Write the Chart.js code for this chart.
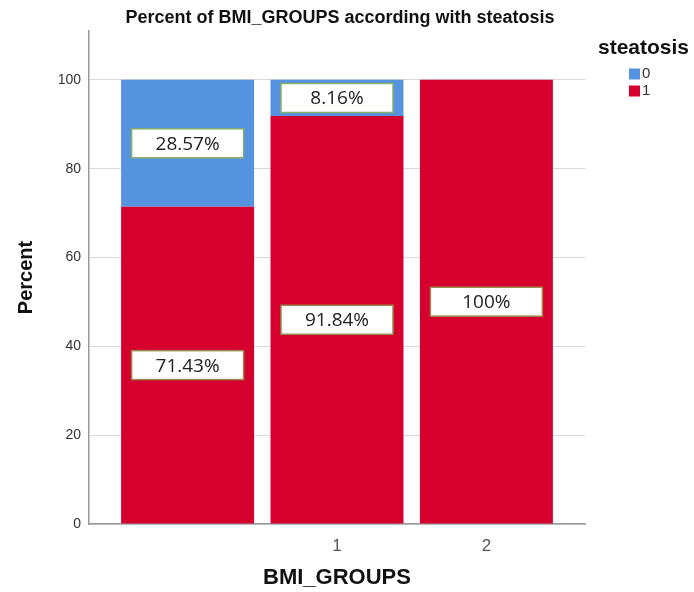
<!DOCTYPE html>
<html>
<head>
<meta charset="utf-8">
<script src="https://cdn.jsdelivr.net/npm/chart.js@4.4.0/dist/chart.umd.min.js"></script>
<style>
html, body { margin: 0; padding: 0; background: #fff; }
</style>
</head>
<body>
<canvas id="chartBmi" width="694" height="592"></canvas>
<script>
// BMI groups on the x axis (first group has no printed label)
const groups = [0, 1, 2];
const groupLabels = ['', '1', '2'];
// percent per group, split by steatosis
const steatosis0 = [28.57, 8.16, 0];
const steatosis1 = [71.43, 91.84, 100];
const yTicks = [0, 20, 40, 60, 80, 100];

const fmt = v => (+v.toFixed(2)) + '%';

Chart.defaults.font.family = '"Liberation Sans", Arial, sans-serif';

// white value boxes in the middle of each segment
const boxLabels = {
    id: 'boxLabels',
    afterDatasetsDraw(chart) {
        const ctx = chart.ctx;
        ctx.save();
        ctx.font = '19px "Open Sans"';
        ctx.textAlign = 'center';
        ctx.textBaseline = 'middle';
        chart.data.datasets.forEach((ds, i) => {
            chart.getDatasetMeta(i).data.forEach((bar, j) => {
                const v = ds.data[j].y;
                if (!v) return;
                const cy = (bar.y + bar.base) / 2;
                ctx.fillStyle = '#fff';
                ctx.fillRect(bar.x - 56, cy - 14.5, 112, 29);
                ctx.strokeStyle = ds.boxBorder;
                ctx.lineWidth = 1.5;
                ctx.strokeRect(bar.x - 56, cy - 14.5, 112, 29);
                ctx.fillStyle = '#222';
                ctx.fillText(fmt(v), bar.x, cy + 1);
            });
        });
        ctx.restore();
    }
};

// title and legend, SPSS style
const sideLegend = {
    id: 'sideLegend',
    afterDraw(chart) {
        const ctx = chart.ctx;
        ctx.save();
        ctx.textBaseline = 'middle';
        ctx.fillStyle = '#111';
        ctx.textAlign = 'center';
        ctx.font = 'bold 18px "Liberation Sans"';
        ctx.fillText('Percent of BMI_GROUPS according with steatosis', 340, 18);
        ctx.textAlign = 'left';
        const x = chart.chartArea.right + 13;
        ctx.font = 'bold 21px "Liberation Sans"';
        ctx.fillText('steatosis', x, 48);
        const items = chart.data.datasets.slice().reverse();
        items.forEach((ds, k) => {
            const y = 74 + k * 17;
            ctx.fillStyle = ds.backgroundColor;
            ctx.fillRect(x + 31, y - 5.5, 11, 11);
            ctx.fillStyle = '#333';
            ctx.font = '15px "Liberation Sans"';
            ctx.fillText(ds.label, x + 44, y);
        });
        ctx.restore();
    }
};

const ctx = document.getElementById('chartBmi').getContext('2d');
const bmiChart = new Chart(ctx, {
    type: 'bar',
    data: {
        datasets: [{
            label: '1',
            data: groups.map((g, i) => ({ x: g, y: steatosis1[i] })),
            backgroundColor: '#D5002E',
            boxBorder: '#97874A',
        }, {
            label: '0',
            data: groups.map((g, i) => ({ x: g, y: steatosis0[i] })),
            backgroundColor: '#5593DF',
            boxBorder: '#86AE6C',
        }]
    },
    options: {
        responsive: false,
        animation: false,
        layout: { padding: { left: 0, right: 109, top: 31, bottom: 0 } },
        datasets: { bar: { categoryPercentage: 1, barPercentage: 0.89 } },
        plugins: {
            legend: { display: false },
            tooltip: { enabled: false },
        },
        scales: {
            x: {
                type: 'linear',
                offset: false,
                stacked: true,
                min: -0.66,
                max: 2.66,
                afterBuildTicks: s => { s.ticks = groups.filter(g => groupLabels[g]).map(v => ({ value: v })); },
                ticks: { callback: v => groupLabels[v], padding: 12, color: '#555', font: { size: 17 } },
                grid: { drawOnChartArea: false, drawTicks: false },
                border: { color: '#999', width: 1.5 },
                title: {
                    display: true, text: 'BMI_GROUPS', color: '#111',
                    font: { size: 22, weight: 'bold' }, padding: { top: 0, bottom: 1 },
                },
                afterFit: s => { s.height = 68; },
            },
            y: {
                stacked: true,
                min: 0,
                max: 111,
                afterBuildTicks: s => { s.ticks = yTicks.map(v => ({ value: v })); },
                ticks: { padding: 8, color: '#333', font: { size: 14 } },
                grid: { color: '#d9d9d9', drawTicks: false },
                border: { color: '#999', width: 1.5 },
                title: {
                    display: true, text: 'Percent', color: '#111',
                    font: { size: 20, weight: 'bold' }, padding: { top: 14, bottom: 0 },
                },
                afterFit: s => { s.width = 89; },
            }
        }
    },
    plugins: [boxLabels, sideLegend]
});
</script>
</body>
</html>
